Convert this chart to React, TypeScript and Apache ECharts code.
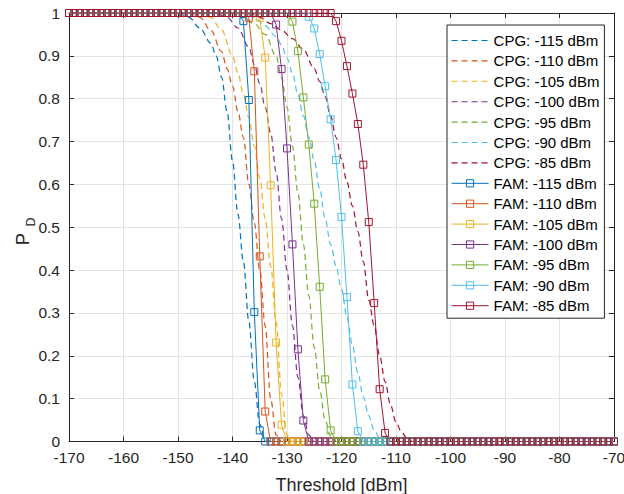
import React, { useEffect, useRef } from "react";
import * as echarts from "echarts";

// ---- data ----
const levels = ["-115", "-110", "-105", "-100", "-95", "-90", "-85"];
const colors = ["#0072BD", "#D95319", "#EDB120", "#7E2F8E", "#77AC30", "#4DBEEE", "#A2142F"];

const xMin = -170;
const xMax = -70;
const xTicks = 10;

// FAM: sampled every 1 dBm; P_D = 1 before the first drop point, 0 after the listed values
const famDropStart = [-138, -137, -135, -132, -129, -126, -121];
const famBlue = [0.981, 0.797, 0.302, 0.026];
const famOrange = [0.989, 0.864, 0.432, 0.07];
const famYellow = [0.989, 0.896, 0.598, 0.231, 0.039];
const famPurple = [0.973, 0.869, 0.684, 0.46, 0.215, 0.049];
const famGreen = [0.98, 0.911, 0.803, 0.693, 0.555, 0.361, 0.145, 0.026];
const famCyan = [0.991, 0.964, 0.904, 0.829, 0.752, 0.657, 0.524, 0.337, 0.133, 0.024];
const famRed = [0.981, 0.935, 0.876, 0.812, 0.741, 0.646, 0.512, 0.323, 0.122, 0.02];
const famDrops = [famBlue, famOrange, famYellow, famPurple, famGreen, famCyan, famRed];

// CPG: [threshold, P_D] points along each dashed curve
const cpgBlue = [[-170, 1], [-150, 1], [-148, 0.99], [-146, 0.965], [-144, 0.93], [-143, 0.9], [-142, 0.85], [-141, 0.77], [-140, 0.655], [-139, 0.53], [-138, 0.42], [-137, 0.28], [-136, 0.14], [-135, 0.04], [-134, 0.005], [-133, 0], [-70, 0]];
const cpgOrange = [[-170, 1], [-148, 1], [-146, 0.99], [-144, 0.96], [-142, 0.91], [-141, 0.87], [-140, 0.83], [-139, 0.77], [-138, 0.71], [-137, 0.6], [-136, 0.51], [-135, 0.4], [-134, 0.27], [-133, 0.1], [-132, 0.015], [-131, 0], [-70, 0]];
const cpgYellow = [[-170, 1], [-146, 1], [-144, 0.99], [-142, 0.96], [-140, 0.9], [-139, 0.86], [-138, 0.81], [-137, 0.755], [-136, 0.69], [-135, 0.615], [-134, 0.52], [-133, 0.41], [-132, 0.28], [-131, 0.11], [-130, 0.015], [-129, 0], [-70, 0]];
const cpgPurple = [[-170, 1], [-143, 1], [-141, 0.99], [-139, 0.965], [-137, 0.92], [-136, 0.88], [-135, 0.835], [-134, 0.78], [-133, 0.72], [-132, 0.63], [-131, 0.52], [-130, 0.4], [-129, 0.27], [-128, 0.15], [-127, 0.06], [-126, 0.015], [-125, 0], [-70, 0]];
const cpgGreen = [[-170, 1], [-140, 1], [-138, 0.99], [-136, 0.975], [-134, 0.95], [-132, 0.9], [-131, 0.85], [-130, 0.78], [-129, 0.69], [-128, 0.58], [-127, 0.46], [-126, 0.34], [-125, 0.22], [-124, 0.12], [-123, 0.05], [-122, 0.012], [-121, 0], [-70, 0]];
const cpgCyan = [[-170, 1], [-138, 1], [-136, 0.99], [-134, 0.97], [-132, 0.945], [-131, 0.925], [-130, 0.895], [-129, 0.86], [-128, 0.81], [-127, 0.76], [-126, 0.71], [-125, 0.655], [-124, 0.59], [-123, 0.52], [-122, 0.46], [-121, 0.41], [-120, 0.355], [-119, 0.29], [-118, 0.225], [-117, 0.16], [-116, 0.105], [-115, 0.06], [-114, 0.026], [-113, 0.008], [-112, 0], [-70, 0]];
const cpgRed = [[-170, 1], [-137, 1], [-135, 0.99], [-133, 0.975], [-131, 0.96], [-129, 0.94], [-127, 0.915], [-125, 0.87], [-124, 0.84], [-123, 0.805], [-122, 0.76], [-121, 0.71], [-120, 0.66], [-119, 0.605], [-118, 0.55], [-117, 0.49], [-116, 0.42], [-115, 0.33], [-114, 0.27], [-113, 0.2], [-112, 0.14], [-111, 0.085], [-110, 0.045], [-109, 0.022], [-108, 0.008], [-107, 0], [-70, 0]];
const cpgCurves = [cpgBlue, cpgOrange, cpgYellow, cpgPurple, cpgGreen, cpgCyan, cpgRed];

const FONT = "'Liberation Sans', Arial, Helvetica, sans-serif";
const AX = "#262626";
const NOFILL = "rgba(0,0,0,0)";

function famSeriesData(start: number, drops: number[]) {
  const out: number[][] = [];
  for (let x = xMin; x <= xMax; x += 1) {
    let y: number;
    if (x < start) y = 1;
    else if (x - start < drops.length) y = drops[x - start];
    else y = 0;
    out.push([x, y]);
  }
  return out;
}

export default function App() {
  const ref = useRef<HTMLDivElement>(null);
  useEffect(() => {
    if (!ref.current) return;
    const chart = echarts.init(ref.current, undefined, { renderer: "svg" });

    const cpgSeries = cpgCurves.map((d, i) => ({
      name: `CPG: ${levels[i]} dBm`,
      type: "line",
      data: d,
      xAxisIndex: 0,
      yAxisIndex: 0,
      symbol: "none",
      smooth: 0.35,
      smoothMonotone: "x",
      color: colors[i],
      lineStyle: { color: colors[i], width: 1.2, type: [6, 4] },
      z: 2,
    }));
    const famSeries = famDrops.map((d, i) => ({
      name: `FAM: ${levels[i]} dBm`,
      type: "line",
      data: famSeriesData(famDropStart[i], d),
      xAxisIndex: 0,
      yAxisIndex: 0,
      symbol: "rect",
      symbolSize: 7,
      showAllSymbol: true,
      itemStyle: { color: NOFILL, borderColor: colors[i], borderWidth: 1 },
      lineStyle: { color: colors[i], width: 1 },
      z: 3,
    }));

    const xBase = {
      type: "value",
      min: xMin,
      max: xMax,
      interval: xTicks,
      axisLine: { show: true, onZero: false, lineStyle: { color: AX, width: 1 } },
      axisTick: { show: true, inside: true, length: 5, lineStyle: { color: AX } },
    };
    const yBase = {
      type: "value",
      min: 0,
      max: 1,
      interval: 0.1,
      axisLine: { show: true, onZero: false, lineStyle: { color: AX, width: 1 } },
      axisTick: { show: true, inside: true, length: 5, lineStyle: { color: AX } },
    };

    chart.setOption({
      animation: false,
      backgroundColor: "#ffffff",
      grid: { left: 69, right: 10, top: 13, bottom: 52.5, containLabel: false, outerBoundsMode: "none" },
      xAxis: [
        {
          ...xBase,
          position: "bottom",
          axisLabel: { fontSize: 15.5, color: AX, margin: 8, fontFamily: FONT },
          splitLine: { show: true, lineStyle: { color: "#e4e4e4", width: 1 } },
          name: "Threshold [dBm]",
          nameLocation: "middle",
          nameGap: 34,
          nameTextStyle: { fontSize: 18, color: AX, fontFamily: FONT },
        },
        { ...xBase, position: "top", axisLabel: { show: false }, splitLine: { show: false } },
      ],
      yAxis: [
        {
          ...yBase,
          position: "left",
          axisLabel: { fontSize: 15.5, color: AX, margin: 9, fontFamily: FONT },
          splitLine: { show: true, lineStyle: { color: "#e4e4e4", width: 1 } },
        },
        { ...yBase, position: "right", axisLabel: { show: false }, splitLine: { show: false } },
      ],
      legend: {
        orient: "vertical",
        left: 447,
        top: 25,
        itemWidth: 37,
        itemHeight: 9,
        itemGap: 5.4,
        padding: [8, 5, 5, 4],
        backgroundColor: "#ffffff",
        borderColor: AX,
        borderWidth: 1,
        borderRadius: 0,
        textStyle: { fontSize: 15, lineHeight: 15, color: "#000", fontFamily: FONT },
        data: [
          ...cpgSeries.map((s, i) => ({
            name: s.name,
            itemStyle: { opacity: 0 },
            lineStyle: { color: colors[i], width: 1.1, type: [6, 4] },
          })),
          ...famSeries.map((s, i) => ({
            name: s.name,
            itemStyle: { color: NOFILL, borderColor: colors[i], borderWidth: 1 },
            lineStyle: { color: colors[i], width: 1 },
          })),
        ],
      },
      graphic: [
        {
          type: "text",
          x: 22.5,
          y: 239,
          rotation: Math.PI / 2,
          style: { text: "P", fontSize: 18.5, fontFamily: FONT, fill: AX, align: "center", verticalAlign: "middle" },
        },
        {
          type: "text",
          x: 31,
          y: 222,
          rotation: Math.PI / 2,
          style: { text: "D", fontSize: 12.5, fontFamily: FONT, fill: AX, align: "center", verticalAlign: "middle" },
        },
      ],
      series: [...cpgSeries, ...famSeries],
    });

    return () => chart.dispose();
  }, []);

  return (
    <div
      ref={ref}
      style={{ position: "absolute", left: 0, top: 0, width: 624, height: 494, background: "#fff" }}
    />
  );
}
